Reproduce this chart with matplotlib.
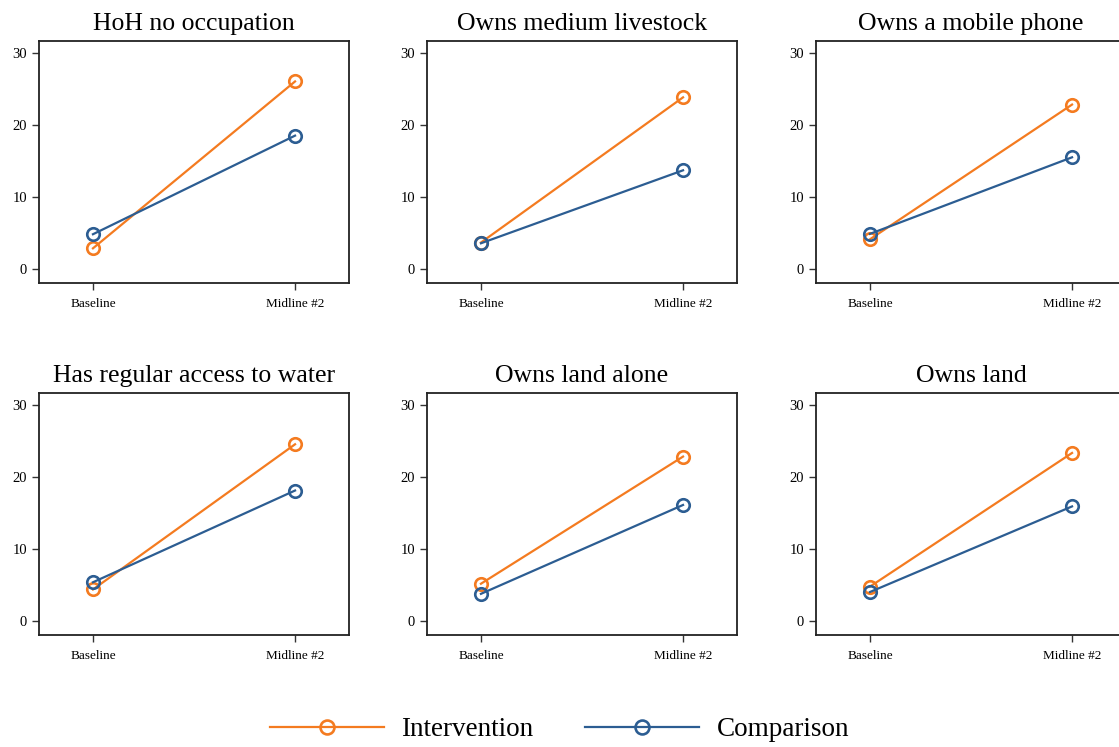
import matplotlib.pyplot as plt
from matplotlib.lines import Line2D

plt.rcParams['font.family'] = ['Liberation Serif', 'DejaVu Serif']

titles = ["HoH no occupation", "Owns medium livestock", "Owns a mobile phone",
          "Has regular access to water", "Owns land alone", "Owns land"]
rounds = ["Baseline", "Midline #2"]
intervention = [[2.9, 26.0], [3.7, 23.8], [4.15, 22.8],
                [4.4, 24.5], [5.2, 22.8], [4.8, 23.3]]
comparison = [[4.85, 18.5], [3.6, 13.7], [4.9, 15.5],
              [5.4, 18.1], [3.8, 16.1], [4.05, 15.9]]

orange = '#f47b20'
blue = '#2c5d92'

W, H = 1119, 747
fig = plt.figure(figsize=(W / 100, H / 100), dpi=100)

lefts = [39, 427, 816]
tops = [41, 393]
aw, ah = 310, 242

for k in range(6):
    r, c = divmod(k, 3)
    ax = fig.add_axes([lefts[c] / W, 1 - (tops[r] + ah) / H, aw / W, ah / H])
    x = range(len(rounds))
    ax.plot(x, intervention[k], color=orange, lw=1.6, marker='o', ms=9,
            mfc='none', mew=1.9, mec=orange, zorder=3)
    ax.plot(x, comparison[k], color=blue, lw=1.6, marker='o', ms=9,
            mfc='none', mew=1.9, mec=blue, zorder=3)
    ax.set_xlim(-0.267, 1.267)
    ax.set_ylim(-1.9, 31.6)
    ax.set_yticks([0, 10, 20, 30])
    ax.set_xticks([0, 1])
    ax.set_xticklabels(rounds, fontsize=9.5)
    ax.tick_params(axis='y', labelsize=10.5, length=5, width=1, color='#333333')
    ax.tick_params(axis='x', length=5, width=1, pad=6, color='#333333')
    for s in ax.spines.values():
        s.set_linewidth(1.3)
        s.set_color('#222222')
    ax.set_title(titles[k], fontsize=18.5, pad=8)

handles = [Line2D([], [], color=orange, lw=1.6, marker='o', ms=10, mfc='none', mew=1.9),
           Line2D([], [], color=blue, lw=1.6, marker='o', ms=10, mfc='none', mew=1.9)]
fig.legend(handles, ["Intervention", "Comparison"], loc='center',
           bbox_to_anchor=(0.5, 1 - 730 / H), ncol=2, frameon=False,
           fontsize=19.5, handlelength=4.2, columnspacing=1.9, handletextpad=0.65)

fig.savefig('out.png', dpi=100)
